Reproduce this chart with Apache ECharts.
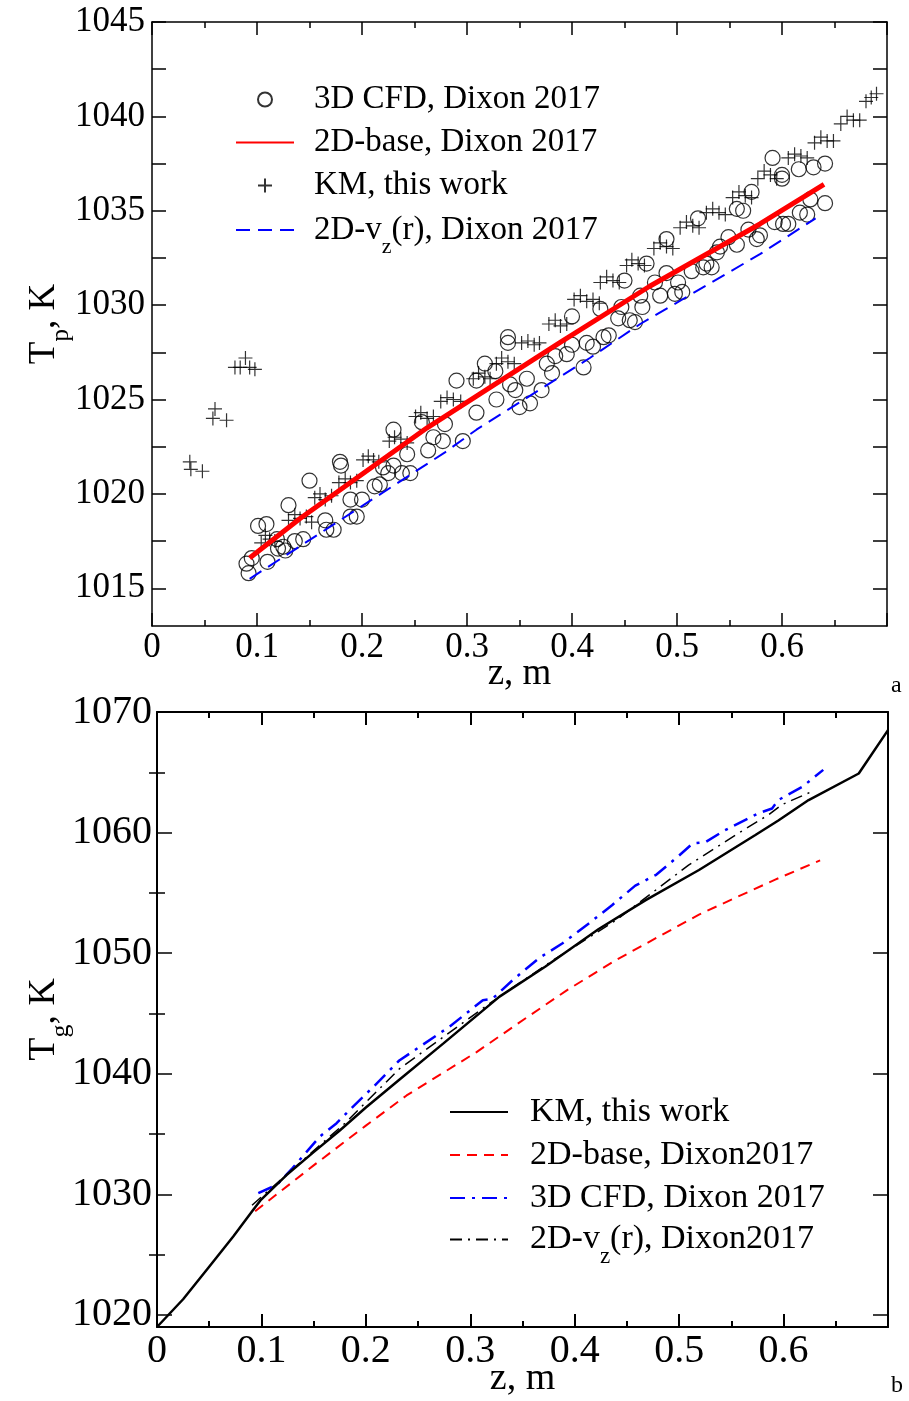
<!DOCTYPE html>
<html><head><meta charset="utf-8">
<script src="https://cdn.jsdelivr.net/npm/echarts@6/dist/echarts.min.js"></script>
<style>html,body{margin:0;padding:0;background:#fff}#c{width:909px;height:1401px}</style>
</head><body><div id="c"></div><script>
const FONT = "'Liberation Serif','DejaVu Serif','Times New Roman',serif";

// ---------- Panel a : particle temperature ----------
const cfdA_z = [0.090,0.092,0.095,0.101,0.109,0.110,0.119,0.120,0.125,0.127,0.130,0.136,0.144,0.150,0.165,0.166,0.173,0.179,0.180,0.189,0.189,0.195,0.200,0.212,0.217,0.220,0.225,0.230,0.230,0.238,0.243,0.246,0.257,0.263,0.268,0.277,0.279,0.290,0.296,0.309,0.328,0.309,0.317,0.327,0.339,0.339,0.346,0.341,0.357,0.350,0.360,0.371,0.376,0.381,0.384,0.395,0.400,0.400,0.411,0.414,0.420,0.427,0.430,0.435,0.444,0.447,0.450,0.455,0.460,0.465,0.467,0.471,0.479,0.484,0.490,0.490,0.498,0.501,0.505,0.514,0.520,0.525,0.528,0.533,0.538,0.541,0.549,0.557,0.557,0.563,0.568,0.571,0.576,0.579,0.591,0.593,0.600,0.600,0.601,0.606,0.616,0.617,0.624,0.627,0.630,0.641,0.641];
const cfdA_T = [1016.3,1015.8,1016.6,1018.3,1018.4,1016.4,1017.6,1017.1,1017.2,1017.0,1019.4,1017.5,1017.6,1020.7,1018.6,1018.1,1018.1,1021.7,1021.5,1019.7,1018.8,1018.8,1019.7,1020.4,1020.5,1021.4,1021.1,1023.4,1021.5,1021.1,1022.1,1021.1,1023.8,1022.3,1023.0,1022.8,1023.7,1026.0,1022.8,1026.0,1025.0,1024.3,1026.9,1026.5,1028.3,1028.0,1025.5,1025.8,1026.1,1024.6,1024.8,1025.5,1026.9,1026.4,1027.3,1027.4,1029.4,1027.9,1026.7,1028.0,1027.8,1029.8,1028.3,1028.4,1029.3,1029.9,1031.3,1029.2,1029.1,1030.5,1029.9,1032.2,1031.2,1030.5,1031.7,1033.5,1030.6,1031.2,1030.7,1031.8,1034.6,1032.0,1032.2,1032.0,1032.8,1033.1,1033.6,1033.2,1035.1,1035.0,1034.0,1036.0,1033.5,1033.7,1037.8,1034.4,1036.9,1036.7,1034.3,1034.3,1037.2,1034.9,1034.8,1035.6,1037.3,1037.5,1035.4];

const kmA_z = [0.036,0.037,0.048, 0.060,0.058,0.071, 0.079,0.084,0.089,0.093,0.098, 0.104,0.108,0.112,0.117, 0.130,0.136,0.141,0.147,0.152, 0.155,0.160,0.165,0.171, 0.178,0.184,0.189,0.195, 0.201,0.206,0.211,0.216, 0.226,0.231,0.237,0.243, 0.251,0.256,0.262,0.268, 0.275,0.281,0.287,0.294, 0.306,0.311,0.317,0.322, 0.328,0.333,0.339,0.345, 0.352,0.358,0.364,0.369, 0.378,0.384,0.389,0.395, 0.402,0.408,0.414,0.420,0.426, 0.427,0.433,0.439,0.445, 0.452,0.457,0.463,0.469, 0.478,0.484,0.490,0.496, 0.503,0.509,0.515,0.521, 0.528,0.534,0.540,0.546, 0.553,0.559,0.565,0.571, 0.577,0.583,0.589,0.595, 0.606,0.612,0.618,0.624, 0.631,0.637,0.643,0.649, 0.656,0.662,0.668,0.674, 0.680,0.685,0.690];
const kmA_T = [1021.7,1021.3,1021.2, 1024.5,1024.0,1023.9, 1026.7,1026.7,1027.2,1026.7,1026.6, 1017.4,1017.8,1017.6,1017.5, 1018.6,1018.9,1018.7,1018.8,1018.5, 1019.8,1020.0,1019.7,1019.9, 1020.6,1020.8,1020.6,1020.7, 1021.8,1022.0,1021.8,1021.7, 1022.8,1023.0,1022.9,1022.7, 1024.1,1024.3,1024.0,1024.1, 1024.9,1025.1,1025.0,1024.9, 1026.1,1026.4,1026.2,1026.1, 1026.9,1027.2,1027.0,1026.9, 1028.0,1028.1,1027.9,1028.0, 1029.0,1029.2,1028.9,1029.0, 1030.3,1030.5,1030.2,1030.3,1030.1, 1031.2,1031.5,1031.3,1031.2, 1032.1,1032.4,1032.2,1032.1, 1033.0,1033.3,1033.1,1033.0, 1034.1,1034.4,1034.2,1034.1, 1034.9,1035.1,1034.9,1034.8, 1035.7,1036.0,1035.8,1035.7, 1036.7,1037.1,1036.9,1036.7, 1037.8,1038.0,1037.9,1037.8, 1038.6,1038.9,1038.7,1038.7, 1039.6,1040.0,1039.8,1039.8, 1040.8,1041.0,1041.2];

const baseA_z = [0.093,0.141,0.262,0.388,0.474,0.579,0.640];
const baseA_T = [1016.6,1018.7,1023.5,1028.0,1031.0,1034.3,1036.4];
const vzA_z = [0.093,0.279,0.309,0.417,0.465,0.579,0.632];
const vzA_T = [1015.5,1022.2,1023.4,1027.2,1029.0,1032.7,1034.6];

// ---------- Panel b : gas temperature ----------
const kmB_z = [0,0.025,0.049,0.073,0.092,0.099,0.124,0.150,0.175,0.200,0.232,0.274,0.328,0.372,0.423,0.468,0.519,0.573,0.595,0.624,0.672,0.700];
const kmB_T = [1019.0,1021.3,1023.9,1026.5,1028.7,1029.5,1031.6,1033.5,1035.3,1037.2,1039.5,1042.5,1046.4,1048.9,1052.0,1054.4,1056.9,1059.8,1061.0,1062.7,1064.9,1068.5];
const baseB_z = [0.094,0.150,0.200,0.239,0.306,0.353,0.392,0.439,0.481,0.519,0.554,0.592,0.635];
const baseB_T = [1028.6,1032.4,1035.7,1038.2,1041.8,1044.6,1046.9,1049.4,1051.4,1053.2,1054.6,1056.1,1057.7];
const cfdB_z = [0.097,0.115,0.130,0.143,0.156,0.172,0.188,0.207,0.232,0.280,0.312,0.321,0.341,0.366,0.388,0.414,0.436,0.458,0.478,0.500,0.513,0.525,0.544,0.576,0.589,0.595,0.618,0.638];
const cfdB_T = [1030.1,1030.8,1032.2,1033.5,1034.8,1035.9,1037.3,1038.9,1041.1,1043.9,1046.1,1046.2,1047.8,1049.6,1050.8,1052.5,1054.0,1055.6,1056.5,1058.1,1059.1,1059.2,1060.2,1061.6,1062.0,1062.7,1063.8,1065.2];
const vzB_z = [0.091,0.130,0.180,0.232,0.318,0.379,0.439,0.509,0.554,0.586,0.598,0.627];
const vzB_T = [1029.1,1032.1,1035.9,1040.4,1045.8,1049.4,1052.7,1057.3,1059.8,1061.5,1062.3,1063.4];

// ---------- tick values ----------
const xLabels = [0,0.1,0.2,0.3,0.4,0.5,0.6];
const yLabelsA = [1015,1020,1025,1030,1035,1040,1045];
const yTicksA = [1015,1017.5,1020,1022.5,1025,1027.5,1030,1032.5,1035,1037.5,1040,1042.5,1045];
const yLabelsB = [1020,1030,1040,1050,1060,1070];
const yMinorB = [1025,1035,1045,1055,1065];

// ---------- legend texts ----------
const namesA = ['a:cfd','a:base','a:km','a:vz'];
const textsA = ['3D CFD, Dixon 2017','2D-base, Dixon 2017','KM, this work','2D-v{s|z}(r), Dixon 2017'];
const namesB = ['b:km','b:base','b:cfd','b:vz'];
const textsB = ['KM, this work','2D-base, Dixon2017','3D CFD, Dixon 2017','2D-v{s|z}(r), Dixon2017'];
const legendText = {};
namesA.forEach((n,i)=>legendText[n]=textsA[i]);
namesB.forEach((n,i)=>legendText[n]=textsB[i]);

const zip = (a,b)=>a.map((v,i)=>[v,b[i]]);
const fmtX = v => v===0 ? '0' : (+v).toFixed(1);
const fmtY = v => String(Math.round(v));
const BLK = '#000';
const NONE = 'rgba(0,0,0,0)';

function xAx(grid, pos, showLabel, fs, name, nameFs, nameGap, lw) {
  return {
    type:'value', gridIndex:grid, position:pos, min:0, max:0.7, interval:0.1,
    axisLine:{show:true, onZero:false, lineStyle:{color:BLK, width:lw}},
    axisTick:{show:true, inside:true, length:13, lineStyle:{color:BLK, width:lw}},
    minorTick:{show:true, splitNumber:2, length:6, lineStyle:{color:BLK, width:lw}},
    splitLine:{show:false}, minorSplitLine:{show:false},
    axisLabel:{show:showLabel, customValues:xLabels, formatter:fmtX, color:BLK, fontFamily:FONT, fontSize:fs, margin:4},
    name: showLabel ? name : '', nameLocation:'middle', nameGap:nameGap, nameMoveOverlap:false,
    nameTextStyle:{color:BLK, fontFamily:FONT, fontSize:nameFs}
  };
}

const subRich = (fs, lh, pad) => ({ s:{fontFamily:FONT, fontSize:fs, color:BLK, lineHeight:lh, padding:[pad,0,0,0]} });

function legendBox(data, left, top, fs, gap, pad) {
  return { data:data, orient:'vertical', left:left, top:top, padding:0, itemWidth:58, itemHeight:14, itemGap:gap,
    selectedMode:false, formatter:n=>legendText[n],
    textStyle:{color:BLK, fontFamily:FONT, fontSize:fs, lineHeight:fs, padding:[0,0,0,pad], rich:subRich(fs-11,fs,34)} };
}

const option = {
  animation:false,
  backgroundColor:'#fff',
  grid:[
    {left:152, top:22, width:735, height:604, outerBoundsMode:'none', containLabel:false},
    {left:157, top:712, width:731, height:615, outerBoundsMode:'none', containLabel:false}
  ],
  xAxis:[
    xAx(0,'bottom',true,35,'z, m',37,30,1.5),
    xAx(0,'top',false,35,'',37,30,1.5),
    xAx(1,'bottom',true,40,'z, m',38,33,2),
    xAx(1,'top',false,40,'',38,33,2)
  ],
  yAxis:[
    { type:'value', gridIndex:0, position:'left', min:1013, max:1045,
      axisLine:{show:true, onZero:false, lineStyle:{color:BLK,width:1.5}},
      axisTick:{show:true, inside:true, length:14, customValues:yTicksA, lineStyle:{color:BLK,width:1.5}},
      axisLabel:{customValues:yLabelsA, formatter:fmtY, color:BLK, fontFamily:FONT, fontSize:35, margin:7},
      splitLine:{show:false},
      name:'T{s|p}, K', nameLocation:'middle', nameGap:88, nameMoveOverlap:false,
      nameTextStyle:{color:BLK, fontFamily:FONT, fontSize:37, lineHeight:40, rich:subRich(25,40,34)} },
    { type:'value', gridIndex:0, position:'right', min:1013, max:1045,
      axisLine:{show:true, onZero:false, lineStyle:{color:BLK,width:1.5}},
      axisTick:{show:true, inside:true, length:14, customValues:yTicksA, lineStyle:{color:BLK,width:1.5}},
      axisLabel:{show:false}, splitLine:{show:false} },
    { type:'value', gridIndex:1, position:'left', min:1019, max:1070,
      axisLine:{show:true, onZero:false, lineStyle:{color:BLK,width:2}},
      axisTick:{show:true, inside:true, length:15, customValues:yLabelsB, lineStyle:{color:BLK,width:1.5}},
      axisLabel:{customValues:yLabelsB, formatter:fmtY, color:BLK, fontFamily:FONT, fontSize:40, margin:5},
      splitLine:{show:false},
      name:'T{s|g}, K', nameLocation:'middle', nameGap:92, nameMoveOverlap:false,
      nameTextStyle:{color:BLK, fontFamily:FONT, fontSize:38, lineHeight:42, rich:subRich(26,42,34)} },
    { type:'value', gridIndex:1, position:'left', min:1019, max:1070,
      axisLine:{show:false}, axisLabel:{show:false}, splitLine:{show:false},
      axisTick:{show:true, inside:true, length:8, customValues:yMinorB, lineStyle:{color:BLK,width:1.5}} },
    { type:'value', gridIndex:1, position:'right', min:1019, max:1070,
      axisLine:{show:true, onZero:false, lineStyle:{color:BLK,width:2}},
      axisTick:{show:true, inside:true, length:15, customValues:yLabelsB, lineStyle:{color:BLK,width:1.5}},
      axisLabel:{show:false}, splitLine:{show:false} },
    { type:'value', gridIndex:1, position:'right', min:1019, max:1070,
      axisLine:{show:false}, axisLabel:{show:false}, splitLine:{show:false},
      axisTick:{show:true, inside:true, length:8, customValues:yMinorB, lineStyle:{color:BLK,width:1.5}} }
  ],
  legend:[
    legendBox(namesA.slice(0,3), 235, 83, 33, 10, 15),
    legendBox(namesA.slice(3), 235, 202, 33, 10, 15),
    legendBox(namesB.slice(0,3), 449, 1095, 34, 9, 17),
    legendBox(namesB.slice(3), 449, 1211, 34, 9, 17)
  ],
  graphic:[
    {type:'text', left:891, top:674, style:{text:'a', fontFamily:FONT, fontSize:24, fill:BLK}},
    {type:'text', left:891, top:1374, style:{text:'b', fontFamily:FONT, fontSize:24, fill:BLK}}
  ],
  series:[
    { name:'a:cfd', type:'scatter', xAxisIndex:0, yAxisIndex:0, data:zip(cfdA_z,cfdA_T),
      symbol:'circle', symbolSize:15, itemStyle:{color:NONE, borderColor:BLK, borderWidth:1.2} },
    { name:'a:km', type:'scatter', xAxisIndex:0, yAxisIndex:0, data:zip(kmA_z,kmA_T),
      symbol:'path://M0,5L10,5M5,0L5,10', symbolSize:14, itemStyle:{color:NONE, borderColor:BLK, borderWidth:1.2} },
    { name:'a:base', type:'line', xAxisIndex:0, yAxisIndex:0, data:zip(baseA_z,baseA_T), symbol:'none',
      lineStyle:{color:'#ff0000', width:5}, itemStyle:{color:NONE, borderWidth:0} },
    { name:'a:vz', type:'line', xAxisIndex:0, yAxisIndex:0, data:zip(vzA_z,vzA_T), symbol:'none',
      lineStyle:{color:'#0000ff', width:2, type:[14,8]}, itemStyle:{color:NONE, borderWidth:0} },
    { name:'b:base', type:'line', xAxisIndex:2, yAxisIndex:2, data:zip(baseB_z,baseB_T), symbol:'none',
      lineStyle:{color:'#ff0000', width:2, type:[10,7]}, itemStyle:{color:NONE, borderWidth:0} },
    { name:'b:vz', type:'line', xAxisIndex:2, yAxisIndex:2, data:zip(vzB_z,vzB_T), symbol:'none',
      lineStyle:{color:BLK, width:1.5, type:[12,6,2,6]}, itemStyle:{color:NONE, borderWidth:0} },
    { name:'b:cfd', type:'line', xAxisIndex:2, yAxisIndex:2, data:zip(cfdB_z,cfdB_T), symbol:'none',
      lineStyle:{color:'#0000ff', width:2.5, type:[15,7,3,7]}, itemStyle:{color:NONE, borderWidth:0} },
    { name:'b:km', type:'line', xAxisIndex:2, yAxisIndex:2, data:zip(kmB_z,kmB_T), symbol:'none',
      lineStyle:{color:BLK, width:2.5}, itemStyle:{color:NONE, borderWidth:0} }
  ]
};
const chart = echarts.init(document.getElementById('c'), null, {renderer:'canvas'});
chart.setOption(option);
</script></body></html>
